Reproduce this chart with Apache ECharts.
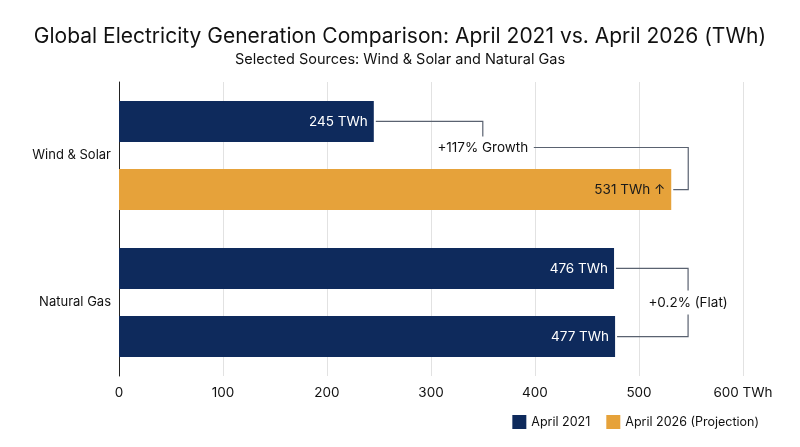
<!DOCTYPE html>
<html><head><meta charset="utf-8">
<script src="https://cdn.jsdelivr.net/npm/echarts@6/dist/echarts.min.js"></script>
<style>html,body{margin:0;padding:0;background:#fff}#c{width:800px;height:447px}</style>
</head><body><div id="c"></div>
<script>
const categories = ['Wind & Solar', 'Natural Gas'];
const april2021 = [245, 476];
const april2026 = [531, 477];
const xTicks = [0, 100, 200, 300, 400, 500, 600];
const annotations = ['+117% Growth', '+0.2% (Flat)'];
const seriesNames = ['April 2021', 'April 2026 (Projection)'];

const NAVY = '#0e2a5c', ORANGE = '#e6a23a';
const FONT = 'Inter';
const series2026Colors = [ORANGE, NAVY];

const chart = echarts.init(document.getElementById('c'));
chart.setOption({
  animation: false,
  textStyle: { fontFamily: FONT },
  title: {
    text: 'Global Electricity Generation Comparison: April 2021 vs. April 2026 (TWh)',
    subtext: 'Selected Sources: Wind & Solar and Natural Gas',
    left: 'center', top: 21, itemGap: 5,
    textStyle: { fontFamily: FONT, fontSize: 21, fontWeight: 'normal', color: '#111' },
    subtextStyle: { fontFamily: FONT, fontSize: 14.5, color: '#111' }
  },
  legend: {
    right: 36, top: 410, itemWidth: 14, itemHeight: 14, itemGap: 16,
    icon: 'rect',
    textStyle: { fontFamily: FONT, fontSize: 12.5, color: '#111' },
    data: [
      { name: seriesNames[0], itemStyle: { color: NAVY } },
      { name: seriesNames[1], itemStyle: { color: ORANGE } }
    ]
  },
  grid: { left: 119, right: 57, top: 82, bottom: 71 },
  xAxis: {
    type: 'value', min: 0, max: 600, interval: 100,
    axisLine: { show: false }, axisTick: { show: false },
    splitLine: { lineStyle: { color: '#e2e2e2', width: 1 } },
    axisLabel: { fontFamily: FONT, fontSize: 13.5, color: '#111', margin: 10,
      formatter: v => v === xTicks[xTicks.length - 1] ? v + ' TWh' : String(v) }
  },
  yAxis: {
    type: 'category', data: categories, inverse: true,
    axisLine: { show: true, lineStyle: { color: '#222', width: 1 } },
    axisTick: { show: false },
    axisLabel: { fontFamily: FONT, fontSize: 13, color: '#111', margin: 8 }
  },
  series: [
    {
      name: seriesNames[0], type: 'bar', data: april2021,
      barWidth: 41, barGap: '66%',
      itemStyle: { color: NAVY },
      label: { show: true, position: 'insideRight', distance: 6, color: '#fff',
        fontFamily: FONT, fontSize: 13.5, formatter: p => p.value + ' TWh' }
    },
    {
      name: seriesNames[1], type: 'bar', barWidth: 41,
      data: april2026.map((v, i) => ({
        value: v,
        itemStyle: { color: series2026Colors[i] },
        label: i === 0 ? { color: '#1a1a1a', formatter: p => p.value + ' TWh ↑' } : { color: '#fff' }
      })),
      label: { show: true, position: 'insideRight', distance: 6, color: '#fff',
        fontFamily: FONT, fontSize: 13.5, formatter: p => p.value + ' TWh' }
    }
  ]
});

function layoutOf(si, i) {
  return chart.getModel().getSeriesByIndex(si).getData().getItemLayout(i);
}
function drawAnnotations() {
  const lineStyle = { stroke: '#5a6270', lineWidth: 1.2, fill: null };
  const els = [];
  // Wind & Solar bracket
  const a = layoutOf(0, 0), b = layoutOf(1, 0);
  const aEnd = a.x + a.width, aY = a.y + a.height / 2;
  const bEnd = b.x + b.width, bY = b.y + b.height / 2;
  const midY = (a.y + a.height + b.y) / 2 - 8;
  const stepX = aEnd + 109;
  const rightX = bEnd + 17;
  els.push({ type: 'polyline', shape: { points: [[aEnd + 2, aY], [stepX, aY], [stepX, midY - 11]] }, style: lineStyle });
  els.push({ type: 'text', x: stepX, y: midY,
    style: { text: annotations[0], fontFamily: FONT, fontSize: 13.5, fill: '#111', align: 'center', verticalAlign: 'middle' } });
  els.push({ type: 'polyline', shape: { points: [[stepX + 51, midY], [rightX, midY], [rightX, bY], [bEnd + 2, bY]] }, style: lineStyle });
  // Natural Gas bracket
  const c = layoutOf(0, 1), d = layoutOf(1, 1);
  const cEnd = c.x + c.width, cY = c.y + c.height / 2;
  const dEnd = d.x + d.width, dY = d.y + d.height / 2;
  const gMid = (c.y + c.height + d.y) / 2;
  const gx = Math.max(cEnd, dEnd) + 73;
  els.push({ type: 'polyline', shape: { points: [[cEnd + 2, cY], [gx, cY], [gx, gMid - 12]] }, style: lineStyle });
  els.push({ type: 'polyline', shape: { points: [[gx, gMid + 12], [gx, dY], [dEnd + 2, dY]] }, style: lineStyle });
  els.push({ type: 'text', x: gx, y: gMid,
    style: { text: annotations[1], fontFamily: FONT, fontSize: 13.5, fill: '#111', align: 'center', verticalAlign: 'middle' } });
  chart.setOption({ graphic: { elements: els } });
}
drawAnnotations();
</script></body></html>
